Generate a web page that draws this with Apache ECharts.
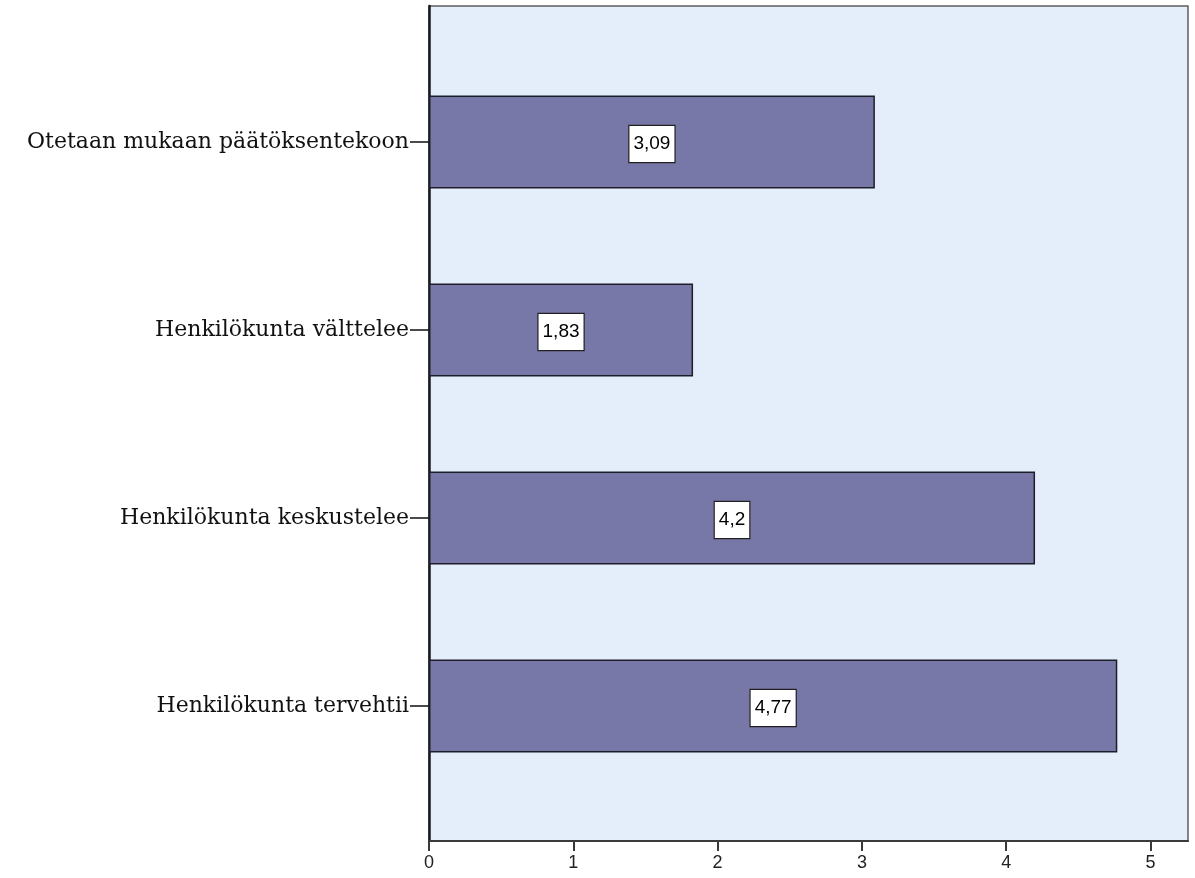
<!DOCTYPE html>
<html>
<head>
<meta charset="utf-8">
<script src="https://cdn.jsdelivr.net/npm/echarts@6/dist/echarts.min.js"></script>
<style>
  html, body { margin: 0; padding: 0; background: #ffffff; }
  #chart { width: 1195px; height: 878px; }
</style>
</head>
<body>
<div id="chart"></div>
<script>
// Mean scores per statement (top to bottom)
const categories = [
  'Otetaan mukaan päätöksentekoon',
  'Henkilökunta välttelee',
  'Henkilökunta keskustelee',
  'Henkilökunta tervehtii'
];
const means = [3.09, 1.83, 4.2, 4.77];
const xTicks = [0, 1, 2, 3, 4, 5];

const X_MAX = 5.26;

const chart = echarts.init(document.getElementById('chart'), null, { renderer: 'canvas' });

const option = {
  animation: false,
  backgroundColor: '#ffffff',
  grid: [
    // bars: category bands sized so the bars sit inside the frame
    { left: 429, right: 7, top: 48, bottom: 78 },
    // frame: plot background, border and value axis
    { left: 429, right: 7, top: 6, bottom: 37, show: true,
      backgroundColor: '#e3eefa', borderColor: '#5e5e5e', borderWidth: 1.5 }
  ],
  xAxis: [
    { gridIndex: 0, type: 'value', min: 0, max: X_MAX, show: false },
    { gridIndex: 1, type: 'value', min: 0, max: X_MAX, interval: 1,
      axisLine: { show: true, lineStyle: { color: '#3a3a3a', width: 2 } },
      axisTick: { show: true, length: 10, customValues: xTicks,
        lineStyle: { color: '#3a3a3a', width: 2 } },
      splitLine: { show: false },
      axisLabel: {
        margin: 13, color: '#222', fontFamily: 'Liberation Sans, Arial, sans-serif', fontSize: 18,
        customValues: xTicks
      }
    }
  ],
  yAxis: [
    { gridIndex: 0, type: 'category', data: categories, inverse: true,
      axisLine: { show: false },
      axisTick: { show: true, alignWithLabel: true, length: 19, lineStyle: { color: '#111', width: 1.5 } },
      axisLabel: { margin: 20, color: '#111', fontFamily: 'DejaVu Serif, serif', fontSize: 22 },
      splitLine: { show: false }
    },
    { gridIndex: 1, type: 'value', min: 0, max: 1,
      axisLine: { show: true, lineStyle: { color: '#1a1a1a', width: 2.5 } },
      axisTick: { show: false }, axisLabel: { show: false }, splitLine: { show: false }
    }
  ],
  series: [
    {
      type: 'bar', xAxisIndex: 0, yAxisIndex: 0,
      data: means,
      barWidth: 93,
      z: 3,
      itemStyle: { color: '#7878a8', borderColor: '#1e1e2a', borderWidth: 1.5 },
      label: {
        show: true, position: 'inside', offset: [0, 2],
        formatter: p => String(p.value).replace('.', ','),
        color: '#000', fontFamily: 'Liberation Sans, Arial, sans-serif', fontSize: 19,
        backgroundColor: '#ffffff', borderColor: '#222', borderWidth: 1.2,
        padding: [9, 4, 8, 4]
      }
    }
  ]
};

chart.setOption(option);
</script>
</body>
</html>
